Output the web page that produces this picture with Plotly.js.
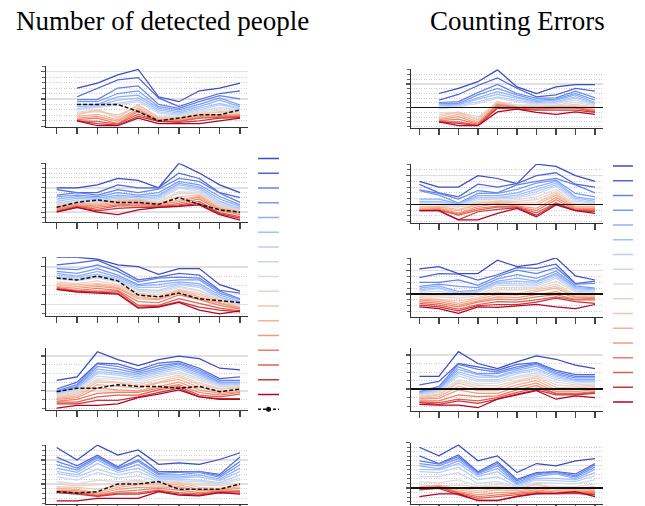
<!DOCTYPE html>
<html><head><meta charset="utf-8">
<script src="https://cdn.plot.ly/plotly-3.0.1.min.js"></script>
<style>html,body{margin:0;padding:0;background:#fff}#chart{width:645px;height:506px}</style>
</head><body><div id="chart"></div>
<script>
const xIdx = [0,1,2,3,4,5,6,7,8,9];
const colors = ['#3b4cc0','#4e67d6','#6281e9','#779af6','#8dafFC','#a2c1fe','#b8cff8','#cbd7ec','#dddcdc',
  '#ead1c5','#f3c3ad','#f6b093','#f3987b','#eb7e64','#dc5f4d','#c93539','#b40426'];
const titleLeft = 'Number of detected people';
const titleRight = 'Counting Errors';

const det1 = [
[null,7.0,7.9,9.4,10.4,5.4,4.5,6.5,7.0,7.9],
[null,5.4,7.0,8.5,8.9,5.2,3.6,4.9,6.0,6.5],
[null,4.9,4.9,7.0,7.4,4.0,3.3,4.5,5.6,5.0],
[null,4.5,4.5,6.0,6.5,3.6,3.0,4.0,5.2,3.9],
[null,4.0,4.0,5.4,5.7,3.3,2.7,3.6,4.8,3.6],
[null,3.6,3.8,4.8,5.2,3.0,2.4,3.3,4.2,3.3],
[null,3.3,3.6,4.2,4.8,2.7,2.2,3.0,3.9,3.2],
[null,3.0,3.4,3.9,4.5,2.4,2.0,2.8,3.4,3.0],
[null,2.6,3.0,1.8,3.9,1.8,1.8,2.6,3.0,2.8],
[null,2.4,2.7,2.1,3.6,1.6,1.6,2.4,2.7,2.6],
[null,2.1,3.0,1.5,4.0,1.5,1.5,2.2,2.6,2.4],
[null,1.8,2.2,1.2,3.3,1.3,1.3,2.0,2.2,2.2],
[null,1.5,1.8,0.9,3.0,1.2,1.2,1.8,2.0,2.1],
[null,1.2,1.5,0.5,2.7,1.0,1.0,1.6,1.8,1.9],
[null,1.0,0.9,0.4,2.2,0.9,0.9,1.5,1.6,1.8],
[null,1.0,0.5,0.2,1.8,0.9,0.7,1.0,1.5,1.6],
[null,1.0,0.1,0.1,1.5,0.5,0.5,0.5,1.0,1.5]];
const mean1 = [null,4.0,4.0,4.0,2.7,1.0,1.5,2.1,2.1,3.0];

const det2 = [
[5.0,5.0,5.6,6.9,6.5,5.0,10.0,8.0,5.6,4.0],
[4.6,4.0,4.0,5.6,5.0,5.0,8.0,6.9,4.0,3.0],
[3.5,4.0,3.5,4.6,4.0,4.7,6.9,6.3,3.9,2.0],
[3.2,3.5,3.2,4.0,3.5,4.0,6.3,5.6,3.2,1.5],
[2.7,3.2,2.9,3.5,3.2,3.5,5.9,5.2,2.7,1.2],
[2.2,2.9,2.5,3.2,2.9,3.2,5.6,4.9,2.2,0.8],
[1.8,2.5,2.2,2.9,2.5,2.9,5.2,4.6,1.8,0.6],
[1.6,2.2,2.0,2.5,2.4,2.5,4.9,4.2,1.5,0.5],
[1.5,2.0,1.8,2.3,2.2,2.2,4.2,4.0,1.3,0.3],
[1.3,1.8,1.7,2.2,2.2,2.0,3.9,3.7,1.2,0.2],
[1.2,1.8,1.8,2.5,2.5,1.8,3.2,3.5,1.0,0.1],
[1.0,1.7,1.5,2.2,2.4,1.7,2.5,3.3,0.8,-0.1],
[0.8,1.5,1.3,1.8,2.0,1.5,2.2,3.1,0.6,-0.2],
[0.6,1.3,1.0,1.5,1.7,1.3,1.8,2.7,0.3,-0.5],
[0.3,1.2,0.6,1.3,1.3,1.2,1.5,2.2,-0.1,-0.9],
[0.1,1.0,0.3,0.8,1.0,1.0,1.3,1.8,-0.3,-1.2],
[0.0,1.0,0.0,-0.5,0.5,1.0,1.2,1.5,-0.5,-1.6]];
const mean2 = [1.0,2.0,2.5,2.0,2.0,1.6,3.0,1.6,0.5,0.0];

const det3 = [
[5.0,5.0,4.8,4.2,4.0,3.2,3.8,3.8,2.1,1.4],
[4.2,4.4,4.7,3.8,2.6,2.9,3.3,3.1,1.5,1.2],
[3.8,3.7,4.2,3.5,2.4,2.8,2.9,2.8,1.4,0.6],
[3.5,3.3,3.8,3.1,2.1,2.4,2.6,2.6,1.2,0.5],
[3.3,3.0,3.5,2.9,2.0,2.1,2.4,2.2,1.0,0.3],
[3.1,2.9,3.2,2.7,1.8,1.8,2.2,2.0,0.8,0.1],
[2.9,2.8,3.0,2.6,1.6,1.5,2.1,1.8,0.7,0.0],
[2.8,2.6,2.9,2.5,1.5,1.4,1.9,1.5,0.6,-0.1],
[2.7,2.5,2.8,2.4,1.4,1.2,1.8,1.4,0.6,-0.1],
[2.4,2.2,2.5,2.1,1.2,1.0,1.6,1.2,0.5,-0.2],
[2.2,2.1,2.2,2.0,1.0,0.8,1.5,1.0,0.4,-0.3],
[2.1,1.9,2.1,1.8,0.8,0.6,1.4,0.8,0.2,-0.4],
[1.9,1.7,1.9,1.7,0.6,0.5,1.2,0.6,0.1,-0.4],
[1.8,1.5,1.7,1.5,0.3,0.2,1.0,0.5,-0.1,-0.5],
[1.7,1.4,1.4,1.4,-0.1,-0.1,0.6,0.1,-0.4,-0.7],
[1.6,1.4,1.3,1.2,-0.3,-0.2,0.3,-0.3,-0.6,-0.8],
[1.6,1.3,1.2,1.1,-0.4,-0.3,0.2,-0.6,-1.0,-0.7]];
const mean3 = [2.8,2.6,3.0,2.5,1.0,0.8,1.2,0.6,0.4,0.2];

const det4 = [
[1.2,1.6,4.5,3.6,2.9,3.6,4.0,3.7,2.6,2.4],
[0.2,1.0,3.2,3.1,2.4,3.2,3.4,2.6,1.4,1.6],
[0.0,0.7,3.1,2.8,2.2,2.9,3.2,2.4,1.2,1.2],
[-0.1,0.5,2.8,2.5,2.0,2.6,3.1,2.2,1.0,1.0],
[-0.2,0.4,2.5,2.2,1.8,2.4,2.9,2.0,0.9,0.9],
[-0.3,0.3,2.2,2.0,1.6,2.2,2.7,1.8,0.8,0.8],
[-0.4,0.2,2.0,1.8,1.4,2.0,2.5,1.6,0.7,0.7],
[-0.5,0.1,1.7,1.5,1.2,1.8,2.2,1.4,0.6,0.6],
[-0.6,-0.1,1.4,1.3,0.9,1.6,2.0,1.2,0.5,0.5],
[-0.7,-0.2,1.2,1.0,0.7,1.3,1.8,0.9,0.3,0.4],
[-0.8,-0.4,1.0,0.9,0.5,1.0,1.6,0.7,0.2,0.3],
[-0.9,-0.6,0.7,0.5,0.3,0.9,1.3,0.4,-0.1,0.1],
[-1.0,-0.8,0.3,0.1,0.0,0.5,1.0,0.1,-0.3,-0.1],
[-1.2,-1.0,-0.3,-0.2,-0.2,0.3,0.7,-0.2,-0.5,-0.2],
[-1.3,-1.3,-0.7,-0.5,-0.5,0.1,0.5,-0.5,-0.7,-0.4],
[-1.5,-1.5,-1.1,-1.1,-0.7,-0.2,0.3,-0.7,-0.9,-0.9],
[-2.0,-1.7,-1.7,-1.5,-0.8,-0.4,0.1,-0.7,-1.0,-1.0]];
const mean4 = [-0.1,0.3,0.3,0.7,0.5,0.5,0.3,0.5,-0.1,0.2];

const det5 = [
[7.6,5.0,8.1,6.0,7.1,4.1,4.4,4.1,5.1,6.5],
[5.6,3.8,6.0,3.6,6.0,2.6,2.6,2.6,2.0,5.6],
[4.7,3.3,5.7,3.3,5.0,2.2,2.4,2.6,1.7,4.7],
[4.0,2.9,5.4,3.1,4.7,1.9,1.9,2.4,1.4,4.0],
[3.3,2.4,5.0,2.8,4.0,1.5,1.5,1.9,1.0,3.3],
[2.6,1.9,4.3,2.4,3.3,1.2,1.2,1.5,0.7,2.6],
[2.2,1.5,3.1,1.9,2.6,0.8,1.0,0.8,0.3,1.9],
[1.5,0.8,2.4,1.2,1.7,0.5,0.7,0.5,0.1,1.2],
[0.5,0.0,0.8,0.5,0.8,0.3,0.5,0.1,-0.1,0.8],
[0.0,-0.4,-0.2,0.1,0.5,0.1,0.0,-0.2,-0.4,0.1],
[-0.6,-0.7,-1.1,-0.4,0.1,0.0,0.3,-0.7,-0.9,-0.2],
[-0.9,-1.1,-1.8,-0.7,-0.2,-0.2,-0.2,-1.1,-1.1,-0.6],
[-1.3,-1.4,-2.1,-1.1,-0.7,-0.6,-0.6,-1.4,-1.3,-0.9],
[-1.5,-1.7,-2.3,-1.6,-1.3,-0.9,-1.3,-1.8,-1.5,-1.4],
[-1.6,-1.9,-2.5,-1.9,-1.8,-1.3,-1.8,-2.1,-1.6,-1.6],
[-1.8,-2.1,-2.6,-2.1,-2.1,-1.5,-2.1,-2.3,-1.8,-1.9],
[-3.5,-3.5,-3.0,-3.0,-3.0,-1.6,-2.3,-2.5,-1.8,-2.1]];
const mean5 = [-1.6,-1.9,-1.6,0.0,0.0,0.5,-1.1,-1.1,-1.1,0.0];

const err1 = [
[null,3.0,4.1,5.5,8.0,4.4,3.0,4.4,4.9,4.9],
[null,1.6,2.8,4.7,6.3,4.1,2.3,2.7,4.1,3.5],
[null,1.1,1.3,3.2,4.9,3.0,2.0,2.1,3.5,2.1],
[null,0.9,0.9,2.7,4.1,2.7,1.6,1.8,3.0,1.6],
[null,0.6,0.7,2.1,3.4,2.3,1.3,1.6,2.7,1.1],
[null,0.4,0.6,1.8,2.8,2.0,1.1,1.3,2.3,0.9],
[null,0.0,0.4,1.3,2.3,1.6,0.9,1.1,2.0,0.7],
[null,-0.3,0.2,0.9,2.0,1.3,0.7,0.9,1.6,0.6],
[null,-1.0,-1.2,-2.3,1.3,0.6,0.6,0.6,1.1,0.4],
[null,-1.4,-1.0,-1.9,0.9,0.4,0.4,0.4,0.7,0.2],
[null,-1.9,-0.9,-2.6,1.3,0.2,0.2,0.4,0.4,0.0],
[null,-2.3,-1.4,-3.0,0.9,0.2,0.1,0.2,0.2,-0.3],
[null,-2.6,-1.9,-3.3,0.7,0.1,0.0,0.1,0.1,-0.5],
[null,-2.8,-2.4,-3.5,0.6,0.0,-0.1,0.0,0.0,-0.6],
[null,-3.0,-3.0,-3.7,0.2,-0.1,-0.3,-0.1,-0.1,-0.9],
[null,-3.0,-3.3,-3.8,-0.1,-0.3,-0.5,-0.5,-0.5,-1.0],
[null,-3.0,-3.8,-3.8,-0.9,-0.3,-1.0,-1.4,-0.9,-1.4]];

const err2 = [
[4.0,3.0,3.0,5.0,4.5,3.6,7.0,6.6,5.0,4.0],
[3.5,2.0,1.3,3.5,3.0,3.6,5.0,5.5,3.5,3.0],
[2.5,1.9,0.9,2.4,2.0,3.4,4.0,4.5,3.4,2.0],
[2.4,1.6,0.2,1.9,1.9,2.6,3.7,4.2,1.9,1.3],
[0.9,0.9,0.1,1.5,1.5,2.0,3.1,4.0,1.3,0.8],
[0.5,0.5,0.0,1.2,1.2,1.6,2.6,3.7,1.1,0.5],
[0.3,0.4,-0.1,1.1,1.1,1.3,2.2,3.4,0.8,0.3],
[0.2,0.2,-0.3,0.8,0.9,1.1,1.8,3.1,0.5,0.2],
[-0.1,-0.1,-0.4,0.5,0.6,0.8,1.3,2.6,0.2,0.1],
[-0.4,-0.3,-0.5,0.3,0.5,0.5,0.8,2.2,-0.1,-0.1],
[-0.5,-0.4,-0.9,0.1,0.5,0.2,0.3,1.9,-0.4,-0.4],
[-0.7,-0.5,-1.1,-0.1,0.3,-0.1,-0.1,1.6,-0.5,-0.5],
[-0.9,-0.7,-1.5,-0.4,0.1,-0.3,-0.7,1.2,-0.7,-0.7],
[-1.0,-0.9,-1.7,-0.7,-0.3,-0.4,-1.1,0.8,-0.9,-0.9],
[-1.1,-1.0,-1.9,-1.0,-0.5,-0.5,-1.5,0.3,-1.0,-1.1],
[-1.1,-1.1,-2.7,-1.3,-0.9,-0.6,-1.9,0.1,-1.1,-1.3],
[-1.1,-1.1,-2.7,-2.7,-1.6,-0.7,-2.2,-0.1,-1.1,-1.6]];

const err3 = [
[4.3,4.7,3.5,3.5,5.8,4.7,5.1,6.2,3.1,2.4],
[2.8,3.5,3.4,2.4,3.3,4.5,4.4,5.1,1.8,2.2],
[2.0,2.0,2.4,1.5,3.0,4.1,3.5,4.5,1.7,1.8],
[1.3,1.7,1.3,1.1,2.6,3.3,2.7,3.9,1.4,1.0],
[1.0,1.4,0.4,0.7,2.2,2.7,2.2,3.5,1.1,0.9],
[0.7,1.1,0.1,0.5,2.0,2.2,2.0,3.3,0.9,0.7],
[0.5,0.9,0.1,0.4,1.8,1.8,1.7,3.0,0.7,0.5],
[0.3,0.5,-0.1,0.3,1.5,1.5,1.4,2.7,0.5,0.3],
[-0.2,-0.2,-0.3,-0.1,1.1,1.1,1.1,2.2,0.3,0.1],
[-0.5,-0.5,-0.7,-0.3,0.7,0.7,0.9,1.7,-0.1,-0.2],
[-0.6,-0.9,-1.2,-0.6,0.3,0.1,0.7,1.3,-0.3,-0.3],
[-0.9,-1.0,-1.6,-0.9,-0.1,-0.2,0.4,1.0,-0.5,-0.5],
[-1.0,-1.3,-1.9,-1.2,-0.5,-0.6,-0.1,0.4,-0.6,-0.6],
[-1.3,-1.6,-2.2,-1.4,-0.9,-1.0,-0.5,-0.1,-0.9,-0.7],
[-1.6,-1.9,-2.6,-1.8,-1.3,-1.4,-1.0,-0.5,-1.0,-1.0],
[-1.9,-2.2,-2.9,-2.0,-1.8,-1.8,-1.4,-0.7,-1.3,-1.6],
[-2.2,-2.5,-3.3,-2.2,-2.3,-2.0,-1.8,-2.2,-2.5,-1.8]];

const err4 = [
[1.5,1.5,4.4,3.0,2.4,3.2,3.9,3.5,2.8,2.4],
[0.5,0.9,3.0,2.6,2.2,2.9,3.1,2.2,1.7,1.7],
[-0.3,0.3,2.9,2.3,2.0,2.6,3.0,2.0,1.5,1.5],
[-0.4,0.1,2.6,1.8,1.8,2.4,2.9,1.8,1.3,1.3],
[-0.4,0.0,2.3,1.7,1.5,2.2,2.7,1.7,1.1,1.1],
[-0.5,-0.1,2.0,1.4,1.4,2.0,2.4,1.5,1.0,1.0],
[-0.6,-0.2,1.8,1.1,1.1,1.8,2.2,1.3,0.9,0.9],
[-0.7,-0.3,1.5,0.9,0.9,1.5,1.9,1.1,0.7,0.8],
[-0.8,-0.4,1.1,0.6,0.7,1.3,1.7,0.8,0.5,0.6],
[-0.9,-0.6,0.9,0.4,0.4,1.0,1.5,0.5,0.3,0.5],
[-1.0,-0.7,0.7,0.1,0.1,0.8,1.3,0.2,0.1,0.3],
[-1.1,-0.9,0.3,-0.2,-0.2,0.5,1.0,-0.1,-0.1,0.1],
[-1.2,-1.1,-0.1,-0.5,-0.5,0.2,0.7,-0.3,-0.3,-0.1],
[-1.4,-1.4,-0.7,-0.9,-0.8,-0.1,0.4,-0.5,-0.5,-0.3],
[-1.5,-1.6,-1.2,-1.4,-1.0,-0.4,0.1,-0.5,-0.6,-0.4],
[-1.6,-1.8,-1.4,-1.7,-1.2,-0.6,-0.1,-0.7,-0.7,-0.5],
[-1.8,-1.9,-1.9,-2.2,-1.2,-0.7,-0.2,-1.2,-0.8,-1.0]];

const err5 = [
[9.0,7.1,9.5,6.0,7.1,3.4,5.4,4.9,6.0,6.5],
[7.1,5.4,7.3,3.6,5.8,1.9,3.4,3.6,3.1,5.4],
[6.0,5.3,6.9,3.4,5.4,1.6,3.2,3.6,2.7,5.1],
[5.4,4.9,6.5,3.2,4.9,1.2,2.9,3.4,2.4,4.6],
[4.9,4.3,6.0,2.9,4.3,0.9,2.5,3.1,2.1,4.1],
[4.1,4.0,5.4,2.5,3.6,0.7,2.1,2.1,1.8,3.4],
[3.6,3.4,4.6,1.8,2.5,0.4,1.8,1.6,1.4,2.7],
[2.5,2.5,3.4,1.0,1.4,0.3,1.2,1.0,0.9,1.8],
[1.4,1.2,1.8,0.4,0.9,0.2,0.7,0.4,0.3,0.9],
[0.7,0.4,0.7,0.2,0.4,-0.1,0.2,0.2,0.0,0.3],
[0.3,0.4,-0.1,-0.6,-0.1,-0.3,0.9,-0.3,-0.3,-0.3],
[0.2,0.7,-0.4,-1.0,-0.4,-0.6,-0.1,-0.6,-0.4,-0.6],
[-0.1,0.4,-0.8,-1.5,-1.0,-0.9,-0.4,-0.9,-0.7,-0.8],
[-0.1,0.3,-1.0,-1.9,-1.5,-1.2,-0.8,-1.0,-0.9,-1.0],
[-0.3,0.2,-1.2,-2.3,-1.9,-1.5,-1.0,-1.2,-1.0,-1.3],
[-0.4,-0.1,-1.5,-2.7,-2.7,-1.8,-1.2,-1.3,-1.2,-1.5],
[-1.9,-1.3,-1.3,-2.8,-2.8,-1.9,-1.3,-1.2,-0.8,-1.9]];

// ---------- layout ----------
const W = 645, H = 506;
const dom = (top, bot) => [1 - bot / H, 1 - top / H];
const colX = [
  {domain: [46 / W, 248 / W], range: [-0.525, 9.39]},
  {domain: [411 / W, 603 / W], range: [-0.43, 9.41]}
];
const panels = [
  {data: det1, mean: mean1, col: 0, top: 66.2, bot: 127, range: [-0.13, 11], dtick: 5},
  {data: det2, mean: mean2, col: 0, top: 163.3, bot: 222, range: [-2, 10], dtick: 5},
  {data: det3, mean: mean3, col: 0, top: 257.3, bot: 315.7, range: [-1.2, 5], dtick: 4},
  {data: det4, mean: mean4, col: 0, top: 348.3, bot: 410, range: [-2.22, 4.9], dtick: 4},
  {data: det5, mean: mean5, col: 0, top: 445, bot: 504, range: [-4.17, 8.12], dtick: 5},
  {data: err1, col: 1, top: 69.3, bot: 127.7, range: [-4.23, 8.12], dtick: 5},
  {data: err2, col: 1, top: 164, bot: 222.7, range: [-3.21, 7.03], dtick: 5},
  {data: err3, col: 1, top: 258, bot: 316.7, range: [-3.89, 6.17], dtick: 4},
  {data: err4, col: 1, top: 348.3, bot: 410.7, range: [-2.55, 4.79], dtick: 4},
  {data: err5, col: 1, top: 442.7, bot: 504, range: [-3.53, 10.0], dtick: 5}
];

const traces = [];
const titleFont = {family: 'Liberation Serif, Times New Roman, serif', size: 27, color: '#000'};
const layout = {
  width: W, height: H, margin: {l: 0, r: 0, t: 0, b: 0},
  paper_bgcolor: '#fff', plot_bgcolor: '#fff', showlegend: false,
  annotations: [
    {text: titleLeft, xref: 'paper', yref: 'paper', x: 162 / W, y: 1 - 21 / H, xanchor: 'center', yanchor: 'middle',
     showarrow: false, font: titleFont},
    {text: titleRight, xref: 'paper', yref: 'paper', x: 517 / W, y: 1 - 21 / H, xanchor: 'center', yanchor: 'middle',
     showarrow: false, font: titleFont}
  ]
};

panels.forEach((p, i) => {
  const n = i + 1;
  const xa = 'x' + (n === 1 ? '' : n), ya = 'y' + (n === 1 ? '' : n);
  layout['xaxis' + (n === 1 ? '' : n)] = {
    domain: colX[p.col].domain, range: colX[p.col].range, anchor: ya,
    tickvals: xIdx, ticks: 'outside', ticklen: 6, tickwidth: 1.3, tickcolor: '#444',
    showticklabels: false, showgrid: false, zeroline: false,
    showline: true, linecolor: '#333', linewidth: 1.4, fixedrange: true
  };
  layout['yaxis' + (n === 1 ? '' : n)] = {
    domain: dom(p.top, p.bot), range: p.range, anchor: xa,
    tick0: 0, dtick: p.dtick, ticks: 'outside', ticklen: 4, tickwidth: 1.4, tickcolor: '#555',
    showticklabels: false, showgrid: true, gridcolor: '#e0e0e0', gridwidth: 1.6,
    zeroline: p.col === 1, zerolinecolor: '#111', zerolinewidth: 1.3, zerolinelayer: 'above traces',
    showline: true, linecolor: '#333', linewidth: 1.4, fixedrange: true,
    minor: {tick0: 0, dtick: 1, ticks: 'outside', ticklen: 2.5, tickwidth: 1, tickcolor: '#666',
            showgrid: true, gridcolor: '#b8b8b8', griddash: '1px,1.5px', gridwidth: 0.7}
  };
  p.data.forEach((ys, k) => {
    traces.push({x: xIdx, y: ys, xaxis: xa, yaxis: ya, type: 'scatter', mode: 'lines',
      line: {color: colors[k], width: 1.25}, hoverinfo: 'skip'});
  });
  if (p.mean) {
    traces.push({x: xIdx, y: p.mean, xaxis: xa, yaxis: ya, type: 'scatter', mode: 'lines',
      line: {color: '#111', width: 1.5, dash: '4px,2px'}, hoverinfo: 'skip'});
  }
});

// ---------- legend keys (no text), drawn on hidden axes ----------
const legendSlots = colors.map((c, k) => k);
layout.xaxis11 = {domain: [258 / W, 279 / W], range: [0, 1], visible: false, fixedrange: true, anchor: 'y11'};
layout.yaxis11 = {domain: dom(151, 416.7), range: [17.5, -0.5], visible: false, fixedrange: true, anchor: 'x11'};
layout.xaxis12 = {domain: [613 / W, 633 / W], range: [0, 1], visible: false, fixedrange: true, anchor: 'y12'};
layout.yaxis12 = {domain: dom(158.6, 409.4), range: [16.5, -0.5], visible: false, fixedrange: true, anchor: 'x12'};
legendSlots.forEach(k => {
  ['11', '12'].forEach(ax => {
    traces.push({x: [0, 1], y: [k, k], xaxis: 'x' + ax, yaxis: 'y' + ax, type: 'scatter', mode: 'lines',
      line: {color: colors[k], width: 1.5}, hoverinfo: 'skip', cliponaxis: false});
  });
});
traces.push({x: [0, 1], y: [17, 17], xaxis: 'x11', yaxis: 'y11', type: 'scatter', mode: 'lines',
  line: {color: '#111', width: 1.4, dash: '3px,2px'}, hoverinfo: 'skip', cliponaxis: false});
traces.push({x: [0.5], y: [17], xaxis: 'x11', yaxis: 'y11', type: 'scatter', mode: 'markers',
  marker: {color: '#111', size: 5}, hoverinfo: 'skip', cliponaxis: false});

Plotly.newPlot('chart', traces, layout, {staticPlot: true, displayModeBar: false});
</script>
</body></html>
